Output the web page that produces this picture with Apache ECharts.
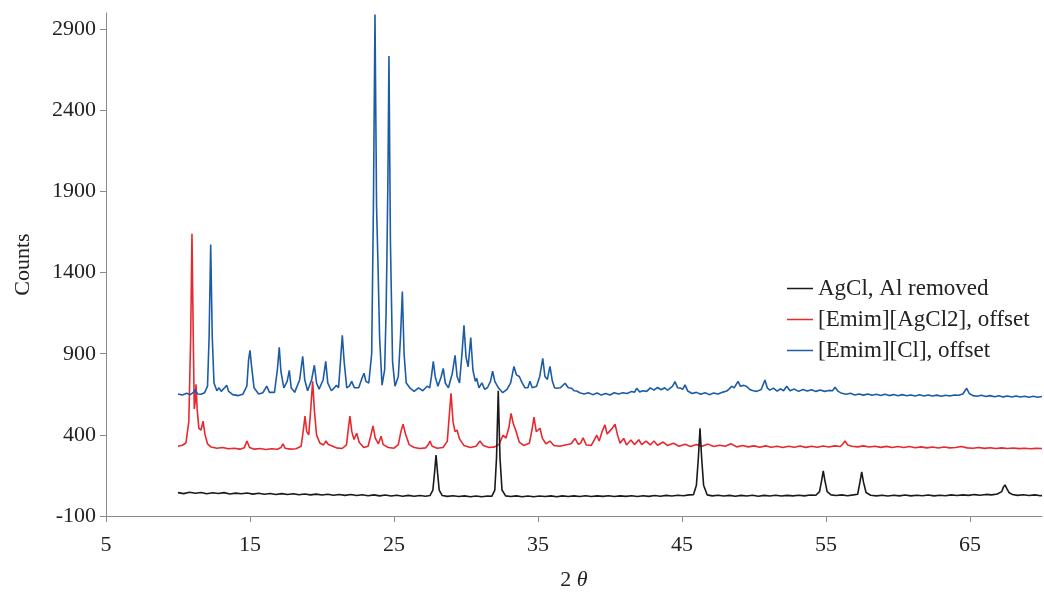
<!DOCTYPE html>
<html><head><meta charset="utf-8">
<script src="https://cdn.jsdelivr.net/npm/echarts@6/dist/echarts.min.js"></script>
<style>html,body{margin:0;padding:0;background:#fff}#c{width:1044px;height:596px}</style>
</head><body><div id="c"></div>
<script>
const seriesNames = ['AgCl, Al removed', '[Emim][AgCl2], offset', '[Emim][Cl], offset'];
const xTicks = [5, 15, 25, 35, 45, 55, 65];
const yTicks = [-100, 400, 900, 1400, 1900, 2400, 2900];

// [2theta, counts]
const agcl = [[10.0,44],[10.4,38],[10.8,46],[11.2,40],[11.6,45],[12.0,37],[12.4,43],[12.8,39],[13.2,44],[13.6,36],[14.0,41],[14.4,37],[14.8,42],[15.2,35],[15.6,40],[16.0,34],[16.4,39],[16.8,33],[17.2,38],[17.6,32],[18.0,37],[18.4,31],[18.8,36],[19.2,30],[19.6,35],[20.0,29],[20.4,34],[20.8,28],[21.2,33],[21.6,27],[22.0,32],[22.4,26],[22.8,31],[23.2,25],[23.6,30],[24.0,24],[24.4,29],[24.8,23],[25.2,28],[25.6,22],[26.0,27],[26.4,22],[26.8,26],[27.2,22],[27.5,26],[27.7,60],[27.82,170],[27.92,275],[28.02,170],[28.14,60],[28.35,26],[28.7,21],[29.1,25],[29.5,20],[29.9,24],[30.3,19],[30.7,23],[31.1,19],[31.5,23],[31.8,22],[32.0,60],[32.12,260],[32.24,672],[32.36,260],[32.5,60],[32.75,24],[33.1,20],[33.5,24],[33.9,19],[34.3,23],[34.7,19],[35.1,23],[35.5,20],[35.9,24],[36.3,19],[36.7,24],[37.1,20],[37.5,24],[37.9,20],[38.3,25],[38.7,20],[39.1,24],[39.5,21],[39.9,25],[40.3,20],[40.7,24],[41.1,21],[41.5,25],[41.9,20],[42.3,25],[42.7,21],[43.1,26],[43.5,22],[43.9,27],[44.3,23],[44.7,28],[45.1,25],[45.5,30],[45.8,32],[46.0,90],[46.13,250],[46.25,440],[46.37,250],[46.5,90],[46.75,30],[47.1,24],[47.5,28],[47.9,23],[48.3,27],[48.7,22],[49.1,27],[49.5,23],[49.9,28],[50.3,22],[50.7,27],[51.1,23],[51.5,28],[51.9,23],[52.3,27],[52.7,24],[53.1,28],[53.5,24],[53.9,29],[54.3,28],[54.55,50],[54.7,120],[54.81,178],[54.92,120],[55.08,50],[55.35,30],[55.7,26],[56.1,30],[56.5,25],[56.9,30],[57.2,34],[57.36,110],[57.48,172],[57.6,110],[57.78,45],[58.1,28],[58.5,24],[58.9,28],[59.3,23],[59.7,28],[60.1,24],[60.5,29],[60.9,24],[61.3,28],[61.7,25],[62.1,29],[62.5,24],[62.9,28],[63.3,25],[63.7,30],[64.1,26],[64.5,30],[64.9,27],[65.3,32],[65.7,28],[66.1,33],[66.5,30],[66.9,36],[67.2,50],[67.32,78],[67.43,92],[67.55,70],[67.7,45],[67.95,32],[68.3,27],[68.7,31],[69.1,26],[69.5,30],[69.9,25],[70.0,27]];

const emimAgCl2 = [[10.0,330],[10.3,336],[10.55,350],[10.75,480],[10.88,1000],[10.97,1640],[11.06,1000],[11.13,560],[11.19,600],[11.25,712],[11.33,560],[11.45,440],[11.6,430],[11.74,484],[11.88,400],[12.05,345],[12.3,325],[12.7,318],[13.1,322],[13.5,314],[13.9,318],[14.3,312],[14.6,320],[14.79,362],[14.97,322],[15.3,312],[15.7,316],[16.1,310],[16.5,314],[16.9,311],[17.15,322],[17.29,345],[17.43,318],[17.8,312],[18.2,314],[18.55,330],[18.72,440],[18.82,515],[18.94,420],[19.08,400],[19.22,560],[19.35,730],[19.48,540],[19.62,400],[19.85,350],[20.1,338],[20.28,362],[20.42,342],[20.55,352],[20.7,332],[21.0,320],[21.4,316],[21.7,338],[21.83,440],[21.94,515],[22.07,420],[22.22,372],[22.41,410],[22.58,355],[22.9,322],[23.2,330],[23.4,400],[23.54,455],[23.7,380],[23.92,345],[24.1,392],[24.25,340],[24.6,322],[25.0,318],[25.3,340],[25.48,420],[25.63,466],[25.8,405],[26.05,340],[26.4,322],[26.8,316],[27.2,320],[27.38,340],[27.5,362],[27.65,330],[28.0,318],[28.4,322],[28.7,360],[28.84,520],[28.96,656],[29.1,480],[29.24,420],[29.38,430],[29.55,375],[29.85,335],[30.3,322],[30.7,330],[30.97,362],[31.2,335],[31.6,322],[32.0,326],[32.3,342],[32.57,398],[32.78,380],[32.98,445],[33.13,533],[33.28,470],[33.45,430],[33.7,355],[34.0,335],[34.4,348],[34.58,430],[34.72,509],[34.88,420],[35.0,415],[35.14,441],[35.3,380],[35.55,345],[35.83,362],[36.1,335],[36.5,330],[36.9,338],[37.3,345],[37.57,378],[37.8,342],[37.95,348],[38.13,382],[38.35,338],[38.7,335],[38.9,368],[39.08,398],[39.25,362],[39.45,420],[39.65,462],[39.8,405],[39.95,420],[40.15,440],[40.35,466],[40.52,400],[40.7,348],[40.95,378],[41.15,338],[41.45,368],[41.7,340],[42.0,370],[42.2,340],[42.5,362],[42.8,338],[43.05,362],[43.3,336],[43.7,356],[44.0,334],[44.4,348],[44.8,330],[45.2,342],[45.6,328],[46.0,340],[46.4,330],[46.8,343],[47.2,328],[47.6,336],[48.0,330],[48.4,345],[48.8,326],[49.2,334],[49.6,326],[50.0,332],[50.4,324],[50.8,332],[51.2,324],[51.6,330],[52.0,322],[52.4,330],[52.8,324],[53.2,331],[53.6,323],[54.0,330],[54.4,324],[54.8,331],[55.2,325],[55.6,332],[56.0,328],[56.15,342],[56.32,362],[56.5,338],[56.8,330],[57.2,326],[57.6,332],[58.0,325],[58.4,330],[58.8,323],[59.2,329],[59.6,322],[60.0,328],[60.4,322],[60.8,328],[61.2,321],[61.6,326],[62.0,320],[62.4,325],[62.8,319],[63.2,325],[63.6,320],[64.0,322],[64.4,328],[64.8,320],[65.2,318],[65.6,322],[66.0,317],[66.4,321],[66.8,316],[67.2,320],[67.6,316],[68.0,319],[68.4,315],[68.8,318],[69.2,314],[69.6,317],[70.0,316]];

const emimCl = [[10.0,652],[10.3,646],[10.6,656],[10.85,648],[11.05,660],[11.2,680],[11.35,652],[11.6,650],[11.85,660],[12.05,700],[12.16,1000],[12.27,1573],[12.38,1000],[12.5,720],[12.7,672],[12.85,690],[13.0,668],[13.25,692],[13.38,706],[13.52,668],[13.8,648],[14.2,642],[14.5,650],[14.78,700],[14.9,860],[15.0,921],[15.1,830],[15.28,690],[15.6,652],[15.9,660],[16.16,700],[16.35,662],[16.7,662],[16.9,800],[17.03,939],[17.15,790],[17.35,690],[17.58,730],[17.73,798],[17.86,690],[18.1,662],[18.45,740],[18.66,884],[18.8,740],[19.0,672],[19.28,740],[19.47,829],[19.62,720],[19.8,682],[20.08,740],[20.26,853],[20.4,720],[20.65,672],[20.85,690],[21.0,705],[21.15,690],[21.28,850],[21.41,1013],[21.54,850],[21.72,690],[21.9,700],[22.06,730],[22.25,690],[22.55,690],[22.78,750],[22.92,780],[23.05,730],[23.25,720],[23.45,900],[23.57,1800],[23.68,2990],[23.79,1800],[23.89,1444],[24.0,1000],[24.17,706],[24.35,800],[24.45,1150],[24.51,1505],[24.58,2000],[24.65,2735],[24.75,1600],[24.9,850],[25.07,700],[25.3,760],[25.45,1000],[25.58,1284],[25.7,900],[25.85,720],[26.1,690],[26.4,668],[26.7,690],[27.0,672],[27.3,700],[27.48,690],[27.6,760],[27.73,853],[27.86,760],[28.05,700],[28.28,760],[28.42,810],[28.56,720],[28.78,690],[29.05,780],[29.24,890],[29.38,760],[29.55,720],[29.72,900],[29.86,1075],[30.0,880],[30.15,820],[30.33,1000],[30.48,800],[30.65,730],[30.74,749],[30.9,690],[31.1,720],[31.3,680],[31.5,692],[31.7,730],[31.85,792],[32.0,730],[32.25,690],[32.55,660],[32.85,680],[33.1,720],[33.33,822],[33.5,770],[33.7,760],[33.9,720],[34.1,690],[34.3,690],[34.44,730],[34.6,690],[34.9,700],[35.12,760],[35.33,872],[35.48,760],[35.65,742],[35.83,822],[36.0,730],[36.15,690],[36.3,687],[36.55,690],[36.88,718],[37.1,690],[37.34,687],[37.5,672],[37.69,670],[37.9,660],[38.2,652],[38.5,660],[38.8,648],[39.1,658],[39.4,645],[39.7,655],[40.0,646],[40.3,660],[40.6,652],[40.9,660],[41.2,655],[41.5,668],[41.7,662],[41.85,687],[42.05,665],[42.3,672],[42.55,668],[42.8,690],[43.05,676],[43.3,692],[43.55,678],[43.8,690],[44.0,675],[44.2,690],[44.35,700],[44.51,728],[44.7,690],[44.9,688],[45.05,680],[45.21,708],[45.4,670],[45.7,655],[46.0,662],[46.3,650],[46.6,660],[46.9,648],[47.2,658],[47.5,652],[47.8,662],[48.1,670],[48.3,685],[48.45,700],[48.62,690],[48.89,730],[49.05,700],[49.3,705],[49.49,698],[49.7,680],[49.95,672],[50.2,668],[50.5,680],[50.76,738],[50.92,690],[51.1,676],[51.35,688],[51.6,670],[51.85,684],[52.05,672],[52.27,700],[52.5,672],[52.8,682],[53.1,668],[53.4,680],[53.7,670],[54.0,678],[54.3,668],[54.6,676],[54.9,668],[55.2,674],[55.45,672],[55.63,693],[55.85,668],[56.1,656],[56.4,650],[56.7,656],[57.0,646],[57.3,652],[57.6,645],[57.9,652],[58.2,644],[58.5,650],[58.8,643],[59.1,650],[59.4,642],[59.7,649],[60.0,641],[60.3,648],[60.6,641],[60.9,646],[61.2,640],[61.5,647],[61.8,640],[62.1,646],[62.4,639],[62.7,645],[63.0,638],[63.3,644],[63.6,640],[63.9,646],[64.2,644],[64.5,652],[64.77,687],[64.95,655],[65.2,642],[65.5,638],[65.8,644],[66.1,636],[66.4,642],[66.7,635],[67.0,641],[67.3,634],[67.6,640],[67.9,633],[68.2,639],[68.5,633],[68.8,638],[69.1,632],[69.4,638],[69.7,632],[70.0,636]];

const colors = ['#1a1a1a', '#e8282f', '#1c5ca6'];
const FONT = "'Liberation Serif', 'DejaVu Serif', serif";

const chart = echarts.init(document.getElementById('c'), null, {renderer: 'canvas'});
const axisColor = '#8a8a8a';
chart.setOption({
  animation: false,
  backgroundColor: '#ffffff',
  textStyle: {fontFamily: FONT},
  grid: {left: 106, right: 2, top: 13, bottom: 78, containLabel: false},
  legend: {
    orient: 'vertical', left: 782, top: 268, itemGap: 0,
    icon: 'rect', itemWidth: 26, itemHeight: 1.5,
    textStyle: {fontFamily: FONT, fontSize: 23, color: '#222', lineHeight: 31},
    data: seriesNames
  },
  xAxis: {
    type: 'value', min: 5, max: 70,
    axisLine: {show: true, onZero: false, lineStyle: {color: axisColor, width: 1}},
    axisTick: {show: true, inside: false, length: 6, customValues: xTicks, lineStyle: {color: axisColor}},
    axisLabel: {customValues: xTicks, fontFamily: FONT, fontSize: 22, color: '#222', margin: 18,
      formatter: v => String(v)},
    splitLine: {show: false},
    name: '2 {i|θ}', nameLocation: 'middle', nameGap: 53,
    nameTextStyle: {fontFamily: FONT, fontSize: 22, color: '#222',
      rich: {i: {fontFamily: FONT, fontSize: 22, fontStyle: 'italic', color: '#222'}}}
  },
  yAxis: {
    type: 'value', min: -100, max: 3000,
    axisLine: {show: true, onZero: false, lineStyle: {color: axisColor, width: 1}},
    axisTick: {show: true, inside: false, length: 6, customValues: yTicks, lineStyle: {color: axisColor}},
    axisLabel: {customValues: yTicks, fontFamily: FONT, fontSize: 22, color: '#222', margin: 10,
      formatter: v => String(v)},
    splitLine: {show: false},
    name: 'Counts', nameLocation: 'middle', nameGap: 72, nameRotate: 90,
    nameTextStyle: {fontFamily: FONT, fontSize: 22, color: '#222'}
  },
  series: [
    {name: seriesNames[0], type: 'line', data: agcl, showSymbol: false, symbol: 'none', color: colors[0], lineStyle: {width: 1.6, color: colors[0]}, z: 3},
    {name: seriesNames[1], type: 'line', data: emimAgCl2, showSymbol: false, symbol: 'none', color: colors[1], lineStyle: {width: 1.6, color: colors[1]}, z: 2},
    {name: seriesNames[2], type: 'line', data: emimCl, showSymbol: false, symbol: 'none', color: colors[2], lineStyle: {width: 1.6, color: colors[2]}, z: 2}
  ]
});
</script>
</body></html>
